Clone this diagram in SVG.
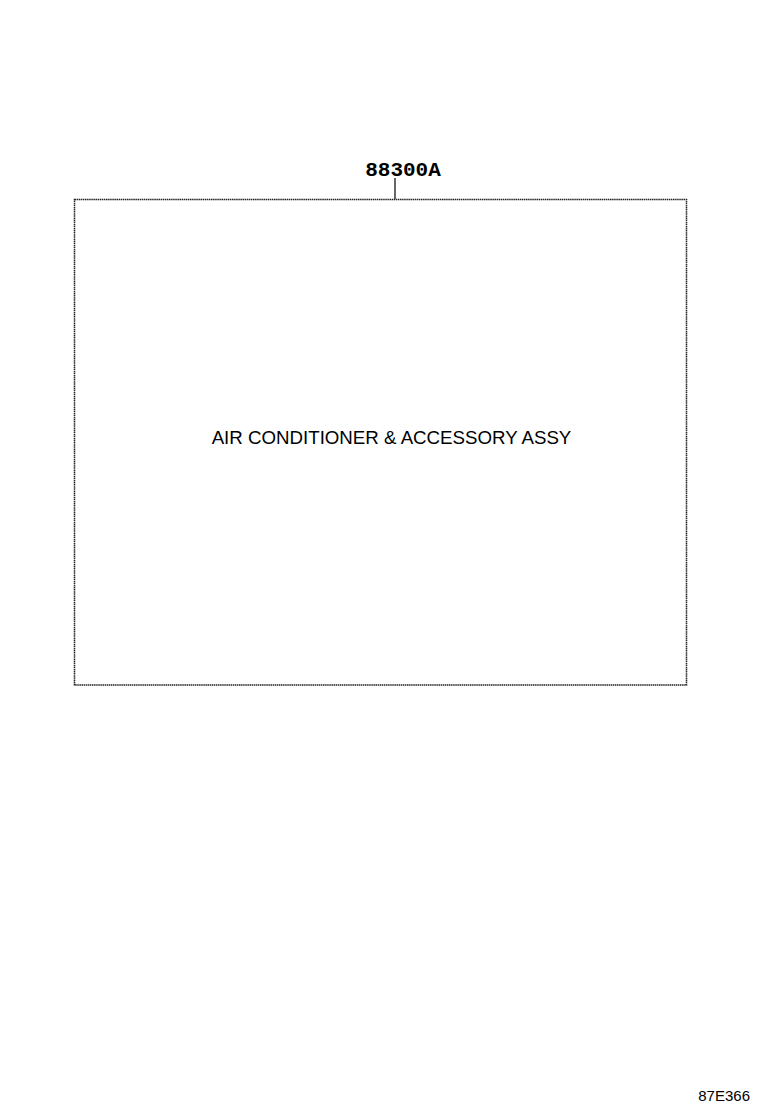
<svg xmlns="http://www.w3.org/2000/svg" width="760" height="1112" viewBox="0 0 760 1112">
<style>
.box{fill:none;stroke:#222;stroke-width:1.5;stroke-dasharray:1.5 0.6}
.lead{stroke:#000;stroke-width:1.2;fill:none}
.part{font-family:"Liberation Mono",monospace;font-weight:bold;font-size:21px;fill:#000}
.name{font-family:"Liberation Sans",Arial,sans-serif;font-size:18.7px;fill:#000}
.code{font-family:"Liberation Sans",Arial,sans-serif;font-size:15px;fill:#000}
</style>
<rect width="760" height="1112" fill="#fff"/>
<g id="connectors">
<line class="lead" x1="395" y1="178" x2="395" y2="199"/>
</g>
<g id="node-88300A">
<text class="part" x="403" y="176" text-anchor="middle">88300A</text>
<rect class="box" x="74.5" y="199.5" width="612" height="485.5"/>
<text class="name" x="391.5" y="444" text-anchor="middle">AIR CONDITIONER &amp; ACCESSORY ASSY</text>
</g>
<g id="figure-code">
<text class="code" x="750" y="1101" text-anchor="end">87E366</text>
</g>
</svg>
